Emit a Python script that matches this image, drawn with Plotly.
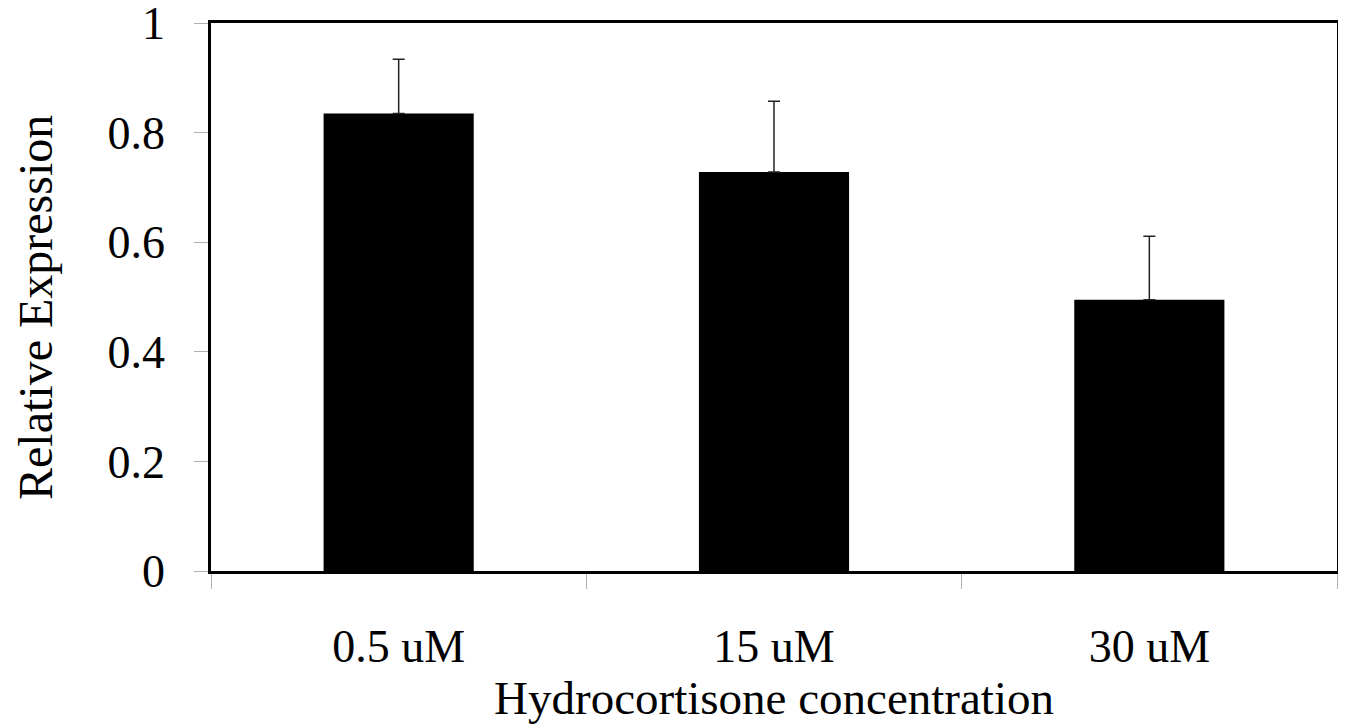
import plotly.graph_objects as go

categories = ["0.5 uM", "15 uM", "30 uM"]
values = [0.835, 0.728, 0.495]
errors = [0.099, 0.129, 0.116]
y_ticks = [0, 0.2, 0.4, 0.6, 0.8, 1]
y_tick_labels = ["0", "0.2", "0.4", "0.6", "0.8", "1"]
x_title = "Hydrocortisone concentration"
y_title = "Relative Expression"

font_family = "Liberation Serif, Times New Roman, serif"

fig = go.Figure(
    go.Bar(
        x=categories,
        y=values,
        width=0.4,
        marker=dict(color="black", line=dict(color="black", width=0)),
        error_y=dict(
            type="data",
            array=errors,
            arrayminus=[0] * len(errors),
            symmetric=False,
            color="#222222",
            thickness=1.5,
            width=6,
        ),
    )
)

fig.update_layout(
    width=1338,
    height=717,
    paper_bgcolor="white",
    plot_bgcolor="white",
    margin=dict(l=203, r=9, t=15, b=154),
    showlegend=False,
    font=dict(family=font_family, color="black"),
)

fig.update_xaxes(
    type="category",
    automargin=False,
    showline=True,
    linecolor="black",
    linewidth=2.5,
    mirror=True,
    ticks="outside",
    tickson="boundaries",
    ticklen=15,
    tickcolor="#b0b0b0",
    tickwidth=1,
    showgrid=False,
    tickfont=dict(size=46, family=font_family, color="black"),
    ticklabelstandoff=33,
    title=dict(text=x_title, font=dict(size=47, family=font_family, color="black"), standoff=10),
)

fig.update_yaxes(
    range=[0, 1],
    automargin=False,
    tickvals=y_ticks,
    ticktext=y_tick_labels,
    ticklabeloverflow="allow",
    showline=True,
    linecolor="black",
    linewidth=2.5,
    mirror=True,
    ticks="outside",
    ticklen=14,
    tickcolor="#b0b0b0",
    tickwidth=1,
    showgrid=False,
    zeroline=False,
    tickfont=dict(size=46, family=font_family, color="black"),
    ticklabelstandoff=20,
)

fig.add_annotation(
    text=y_title,
    textangle=-90,
    xref="paper",
    yref="paper",
    x=0,
    y=0.48,
    xshift=-175,
    xanchor="center",
    yanchor="middle",
    showarrow=False,
    font=dict(size=48, family=font_family, color="black"),
)

fig.write_html("out.html")
